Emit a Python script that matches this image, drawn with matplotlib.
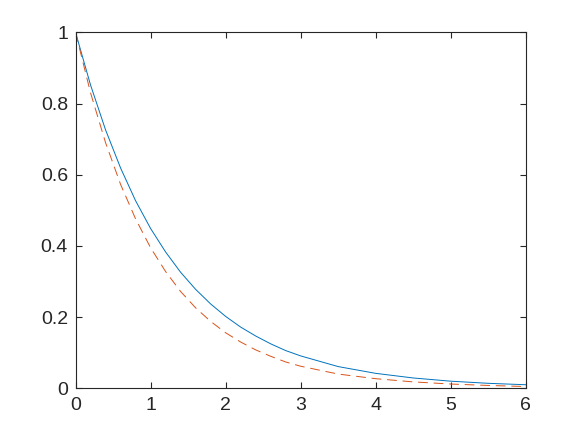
import matplotlib
matplotlib.use("Agg")
import matplotlib.pyplot as plt

x_vals = [0.0, 0.2, 0.4, 0.6, 0.8, 1.0, 1.2, 1.4, 1.6, 1.8, 2.0, 2.2, 2.4, 2.6, 2.8, 3.0,
          3.5, 4.0, 4.5, 5.0, 5.5, 6.0]
blue_vals = [1.000, 0.852, 0.726, 0.619, 0.527, 0.449, 0.383, 0.326, 0.278, 0.237, 0.202,
             0.172, 0.147, 0.125, 0.106, 0.091, 0.061, 0.042, 0.029, 0.020, 0.014, 0.010]
red_vals = [1.000, 0.830, 0.690, 0.573, 0.476, 0.395, 0.328, 0.272, 0.226, 0.188, 0.156,
            0.130, 0.108, 0.090, 0.074, 0.062, 0.040, 0.027, 0.018, 0.012, 0.008, 0.005]

x_ticks = [0, 1, 2, 3, 4, 5, 6]
x_tick_labels = ["0", "1", "2", "3", "4", "5", "6"]
y_ticks = [0, 0.2, 0.4, 0.6, 0.8, 1.0]
y_tick_labels = ["0", "0.2", "0.4", "0.6", "0.8", "1"]

plt.rcParams['font.family'] = ['Liberation Sans', 'DejaVu Sans']

fig = plt.figure(figsize=(5.81, 4.36), dpi=100)
ax = fig.add_axes([0.13, 0.1094, 0.775, 0.8165])

ax.plot(x_vals, blue_vals, color='#0072BD', linewidth=0.7)
ax.plot(x_vals, red_vals, color='#D95319', linewidth=0.7, linestyle=(0, (10, 6)))

ax.set_xlim(0, 6)
ax.set_ylim(0, 1)
ax.set_xticks(x_ticks)
ax.set_xticklabels(x_tick_labels)
ax.set_yticks(y_ticks)
ax.set_yticklabels(y_tick_labels)

edge = '#262626'
for s in ax.spines.values():
    s.set_color(edge)
    s.set_linewidth(0.8)
ax.tick_params(direction='in', top=True, right=True, length=4, width=0.8,
               color=edge, labelcolor=edge, labelsize=14)
ax.tick_params(axis='y', pad=5.5)
ax.tick_params(axis='x', pad=6)

fig.savefig("out.png", dpi=100)
